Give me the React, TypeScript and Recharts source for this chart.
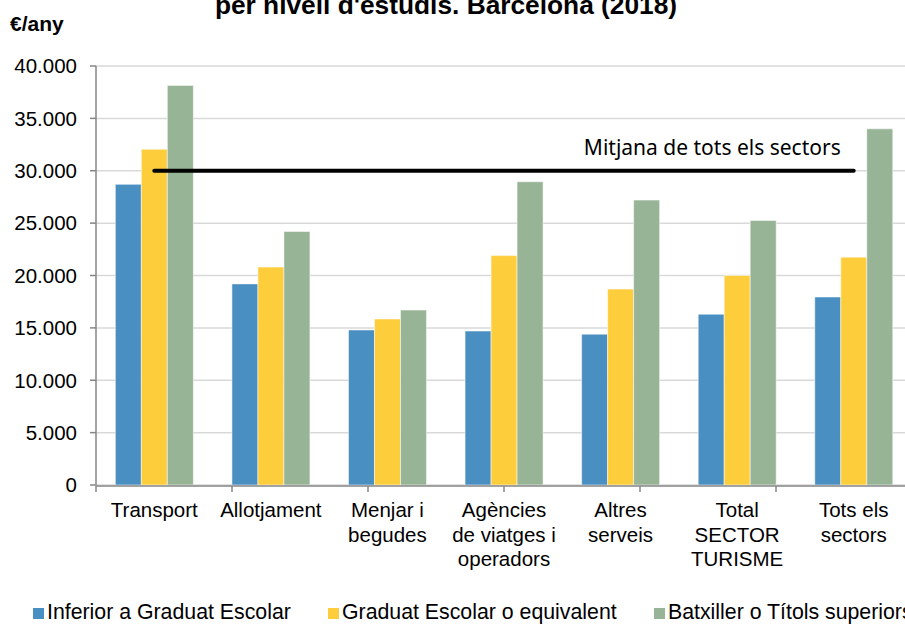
import React from "react";
import {
  ComposedChart,
  Bar,
  Line,
  XAxis,
  YAxis,
  CartesianGrid,
  Legend,
} from "recharts";

const CATEGORIES = [
  "Transport",
  "Allotjament",
  "Menjar i\nbegudes",
  "Agències\nde viatges i\noperadors",
  "Altres\nserveis",
  "Total\nSECTOR\nTURISME",
  "Tots els\nsectors",
];
const INFERIOR = [28700, 19200, 14800, 14700, 14400, 16300, 17950];
const GRADUAT = [32050, 20800, 15850, 21900, 18700, 20000, 21750];
const BATXILLER = [38150, 24200, 16700, 28950, 27200, 25250, 34000];
const MITJANA = [30000, 30000, 30000, 30000, 30000, 30000, 30000];
const Y_TICKS = [0, 5000, 10000, 15000, 20000, 25000, 30000, 35000, 40000];
const BOUNDARY_TICKS = [0, 1, 2, 3, 4, 5, 6, 7];

const SERIES = [
  { key: "inferior", name: "Inferior a Graduat Escolar", color: "#4A8FC2" },
  { key: "graduat", name: "Graduat Escolar o equivalent", color: "#FECD3C" },
  { key: "batxiller", name: "Batxiller o Títols superiors", color: "#98B496" },
];
const LEGEND_LEFT = [33, 328, 654];

const FONT = "'Liberation Sans', Arial, sans-serif";
const AXIS = "#868686";

const rows = CATEGORIES.map((cat, i) => ({
  cat,
  inferior: INFERIOR[i],
  graduat: GRADUAT[i],
  batxiller: BATXILLER[i],
  mitjana: MITJANA[i],
}));

// 40000 -> "40.000"
const fmt = (v: number) => String(v).replace(/\B(?=(\d{3})+(?!\d))/g, ".");

function CatTick(props: any) {
  const { x, y, payload } = props;
  const lines = String(payload.value).split("\n");
  return (
    <text x={x} y={y + 32} textAnchor="middle" fontSize={20.5} fontFamily={FONT} fill="#000">
      {lines.map((l, i) => (
        <tspan key={i} x={x} dy={i === 0 ? 0 : 24.5}>
          {l}
        </tspan>
      ))}
    </text>
  );
}

function meanLabel(props: any) {
  const { x, y, index } = props;
  if (index !== CATEGORIES.length - 1) return null;
  return (
    <text
      x={x - 13}
      y={y - 16}
      textAnchor="end"
      fontSize={21}
      fontFamily="'Noto Sans', 'Open Sans', sans-serif"
      fill="#000"
    >
      Mitjana de tots els sectors
    </text>
  );
}

function LegendBox() {
  return (
    <div style={{ position: "relative", width: 905, height: 30, fontFamily: FONT }}>
      {SERIES.map((s, i) => (
        <div
          key={s.key}
          style={{
            position: "absolute",
            left: LEGEND_LEFT[i],
            top: 0,
            fontSize: 21.3,
            lineHeight: "21px",
            whiteSpace: "nowrap",
            color: "#000",
          }}
        >
          <span
            style={{
              display: "inline-block",
              width: 11,
              height: 11,
              background: s.color,
              marginRight: 3,
              verticalAlign: "baseline",
            }}
          />
          {s.name}
        </div>
      ))}
    </div>
  );
}

export default function App() {
  return (
    <div
      style={{
        position: "absolute",
        left: 0,
        top: 0,
        width: 905,
        height: 627,
        overflow: "hidden",
        background: "#fff",
        fontFamily: FONT,
      }}
    >
      <div
        style={{
          position: "absolute",
          left: 0,
          width: 892,
          top: -7,
          textAlign: "center",
          fontWeight: "bold",
          fontSize: 26.3,
          lineHeight: "25px",
          whiteSpace: "nowrap",
        }}
      >
        per nivell d'estudis. Barcelona (2018)
      </div>
      <div
        style={{
          position: "absolute",
          left: 10,
          top: 13,
          fontWeight: "bold",
          fontSize: 21,
          lineHeight: "21px",
        }}
      >
        €/any
      </div>
      <ComposedChart
        width={912}
        height={627}
        data={rows}
        margin={{ top: 66, right: 0, bottom: 140, left: 0 }}
        barCategoryGap="16.6%"
        barGap={0}
      >
        <CartesianGrid vertical={false} stroke="#d9d9d9" strokeWidth={1.5} />
        <XAxis
          dataKey="cat"
          height={1}
          axisLine={false}
          tickLine={false}
          tickSize={0}
          tickMargin={0}
          interval={0}
          tick={<CatTick />}
        />
        <XAxis
          xAxisId="bounds"
          type="number"
          domain={[0, 7]}
          ticks={BOUNDARY_TICKS}
          height={1}
          tick={() => <g />}
          tickSize={6}
          stroke={AXIS}
          strokeWidth={1.5}
          interval={0}
          allowDataOverflow
        />
        <YAxis
          domain={[0, 40000]}
          ticks={Y_TICKS}
          width={96}
          tickSize={6}
          tickMargin={13}
          stroke={AXIS}
          strokeWidth={1.5}
          tick={{ fill: "#000", fontSize: 20.5, fontFamily: FONT }}
          tickFormatter={(v) => fmt(v as number)}
          interval={0}
        />
        {SERIES.map((s) => (
          <Bar
            key={s.key}
            dataKey={s.key}
            name={s.name}
            fill={s.color}
            stroke="#ffffff"
            strokeOpacity={0.5}
            strokeWidth={1}
            isAnimationActive={false}
          />
        ))}
        <Line
          dataKey="mitjana"
          stroke="#000"
          strokeWidth={4}
          strokeLinecap="round"
          dot={false}
          activeDot={false}
          label={meanLabel}
          isAnimationActive={false}
        />
        <Legend
          layout="horizontal"
          verticalAlign="middle"
          align="center"
          wrapperStyle={{ top: 602, left: 0, width: 905, height: 30 }}
          content={() => <LegendBox />}
        />
      </ComposedChart>
    </div>
  );
}
